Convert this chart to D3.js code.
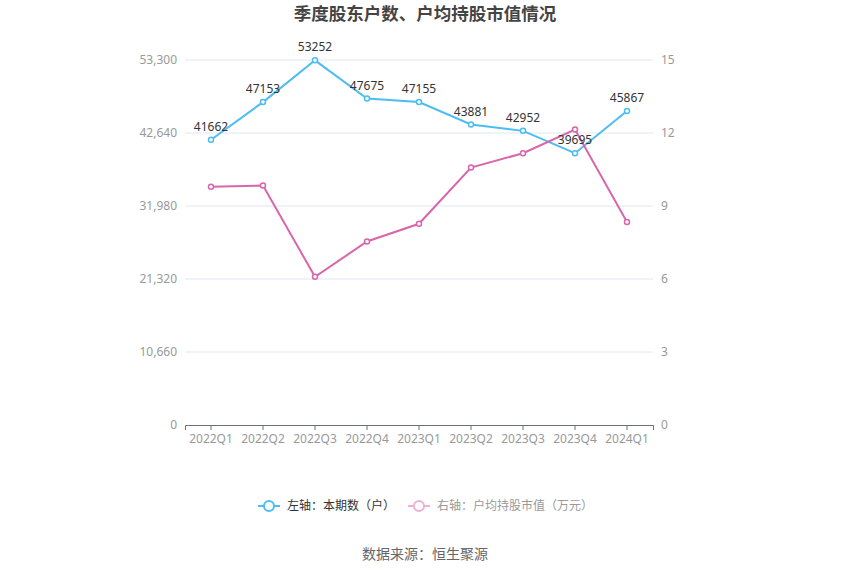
<!DOCTYPE html>
<html><head><meta charset="utf-8">
<script src="https://cdn.jsdelivr.net/npm/d3@7/dist/d3.min.js"></script>
<style>body{margin:0;background:#fff;}svg{display:block;font-family:"Noto Sans CJK SC","Noto Sans",sans-serif;}</style>
</head><body>
<svg id="c" width="850" height="575"></svg>
<script>
const categories = ["2022Q1","2022Q2","2022Q3","2022Q4","2023Q1","2023Q2","2023Q3","2023Q4","2024Q1"];
const holders = [41662,47153,53252,47675,47155,43881,42952,39695,45867];
const avgValue = [9.79,9.84,6.09,7.54,8.27,10.58,11.17,12.14,8.34];
const leftTicks = [0,10660,21320,31980,42640,53300];
const rightTicks = [0,3,6,9,12,15];
const title = "季度股东户数、户均持股市值情况";
const legendLabels = ["左轴：本期数（户）","右轴：户均持股市值（万元）"];
const source = "数据来源：恒生聚源";

const blue = "#4cbdf2", pink = "#d966ad";
const svg = d3.select("#c");
const L = 185, R = 653, T = 60, B = 425;
const x = d3.scaleBand().domain(categories).range([L, R]);
const yL = d3.scaleLinear().domain([0, 53300]).range([B, T]);
const yR = d3.scaleLinear().domain([0, 15]).range([B, T]);

svg.append("text").attr("x", 425).attr("y", 20).attr("text-anchor", "middle")
  .attr("font-size", 17.5).attr("font-weight", "bold").attr("fill", "#444").text(title);

// grid
svg.append("g").selectAll("line").data(leftTicks.slice(1)).join("line")
  .attr("x1", L).attr("x2", R).attr("y1", d => yL(d)).attr("y2", d => yL(d))
  .attr("stroke", "#e0e6f1").attr("stroke-width", 1);

// left axis
const gl = svg.append("g").attr("transform", `translate(${L},0)`)
  .call(d3.axisLeft(yL).tickValues(leftTicks).tickSize(0).tickPadding(8).tickFormat(d3.format(",")));
gl.select(".domain").remove();
gl.selectAll("text").attr("fill", "#999").attr("font-size", 12).attr("font-family", "'Noto Sans',sans-serif");

const gr = svg.append("g").attr("transform", `translate(${R},0)`)
  .call(d3.axisRight(yR).tickValues(rightTicks).tickSize(0).tickPadding(8));
gr.select(".domain").remove();
gr.selectAll("text").attr("fill", "#999").attr("font-size", 12).attr("font-family", "'Noto Sans',sans-serif");

// x axis
const gx = svg.append("g").attr("transform", `translate(0,${B})`)
  .call(d3.axisBottom(x).tickSize(5).tickPadding(4));
gx.select(".domain").attr("stroke", "#6e7079");
gx.selectAll(".tick line").attr("stroke", "#6e7079");
gx.selectAll("text").attr("fill", "#999").attr("font-size", 12).attr("font-family", "'Noto Sans',sans-serif");

const cx = d => x(d) + x.bandwidth() / 2;
const lineL = d3.line().x((d, i) => cx(categories[i])).y(d => yL(d));
const lineR = d3.line().x((d, i) => cx(categories[i])).y(d => yR(d));

svg.append("path").datum(holders).attr("d", lineL).attr("fill", "none").attr("stroke", blue).attr("stroke-width", 2);
svg.append("g").selectAll("circle").data(holders).join("circle")
  .attr("cx", (d, i) => cx(categories[i])).attr("cy", d => yL(d)).attr("r", 2.5)
  .attr("fill", "#fff").attr("stroke", blue).attr("stroke-width", 1.5);

svg.append("path").datum(avgValue).attr("d", lineR).attr("fill", "none").attr("stroke", pink).attr("stroke-width", 2);
svg.append("g").selectAll("circle").data(avgValue).join("circle")
  .attr("cx", (d, i) => cx(categories[i])).attr("cy", d => yR(d)).attr("r", 2.5)
  .attr("fill", "#fff").attr("stroke", pink).attr("stroke-width", 1.5);

svg.append("g").selectAll("text").data(holders).join("text")
  .attr("x", (d, i) => cx(categories[i])).attr("y", d => yL(d) - 9)
  .attr("text-anchor", "middle").attr("font-size", 12).attr("fill", "#333")
  .attr("font-family", "'Noto Sans',sans-serif").text(d => d);

// legend
const lg = svg.append("g");
const items = [{c: blue, t: legendLabels[0], tc: "#333", x: 258}, {c: "#ebb2d6", t: legendLabels[1], tc: "#999", x: 408}];
items.forEach(it => {
  lg.append("line").attr("x1", it.x).attr("x2", it.x + 22).attr("y1", 506).attr("y2", 506).attr("stroke", it.c).attr("stroke-width", 2);
  lg.append("circle").attr("cx", it.x + 11).attr("cy", 506).attr("r", 5).attr("fill", "#fff").attr("stroke", it.c).attr("stroke-width", 2);
  lg.append("text").attr("x", it.x + 29).attr("y", 510).attr("font-size", 12).attr("fill", it.tc).text(it.t);
});

svg.append("text").attr("x", 425).attr("y", 559).attr("text-anchor", "middle")
  .attr("font-size", 14).attr("fill", "#666").text(source);
</script>
</body></html>
